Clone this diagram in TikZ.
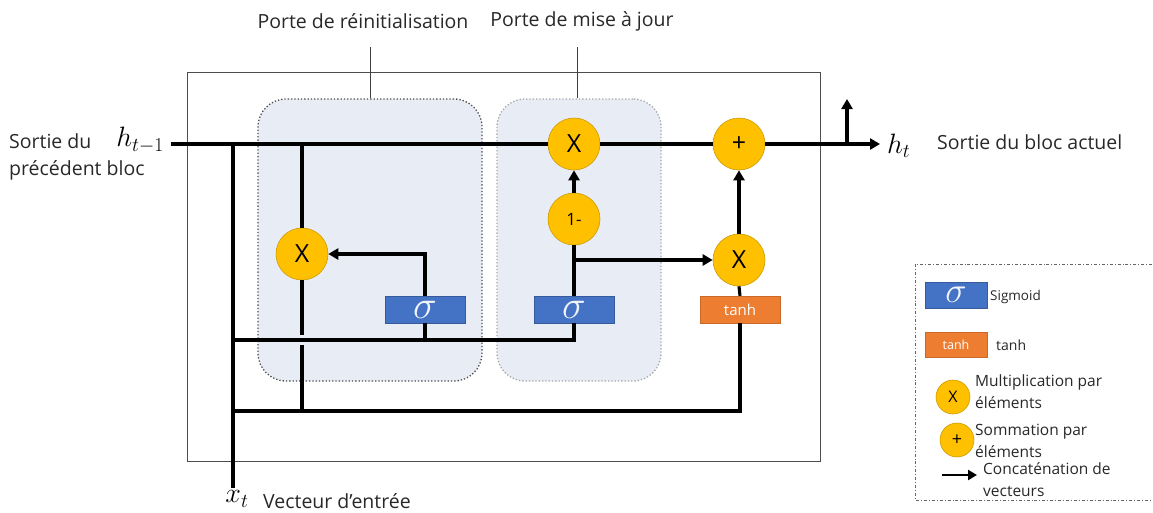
\RequirePackage{fix-cm}
\documentclass[tikz,border=0pt]{standalone}
\usepackage{fontspec}
\setmainfont{Open Sans}
\usetikzlibrary{arrows.meta,backgrounds}

\definecolor{gatefill}{RGB}{232,237,245}
\definecolor{sigblue}{RGB}{68,114,196}
\definecolor{tanhorange}{RGB}{237,125,49}
\definecolor{opyellow}{RGB}{255,192,0}
\definecolor{opedge}{RGB}{205,155,0}
\definecolor{textgray}{RGB}{40,40,40}

\tikzset{
  op/.style={circle, fill=opyellow, draw=opedge, line width=0.6pt,
    minimum size=52pt, inner sep=0pt, font=\fontsize{25}{25}\selectfont},
  smallop/.style={op, minimum size=34pt, font=\fontsize{16}{16}\selectfont},
  sigbox/.style={rectangle, fill=sigblue, draw=sigblue!80!black, line width=0.4pt,
    minimum width=80pt, minimum height=27pt, inner sep=0pt,
    text=white!92!sigblue},
  sigma/.style={font=\fontsize{#1}{#1}\selectfont},
  tanhbox/.style={rectangle, fill=tanhorange, draw=tanhorange!85!black, line width=0.4pt,
    minimum width=80pt, minimum height=27pt, inner sep=0pt,
    text=white, font=\fontsize{15}{15}\selectfont},
  gatebox/.style={rectangle, rounded corners=28pt, fill=gatefill,
    line width=1.3pt, dotted, minimum height=282pt},
  wire/.style={line width=3.1pt, line join=miter},
  flow/.style={wire, -{Triangle[length=10pt,width=11pt]}},
  thinline/.style={line width=1pt, draw=black!75},
  lbl/.style={inner sep=0pt, text=textgray, font=\fontsize{19.5}{27}\selectfont, align=left},
  leg/.style={inner sep=0pt, text=textgray, font=\fontsize{15.5}{22}\selectfont, align=left},
  mathlbl/.style={inner sep=0pt, font=\fontsize{28}{28}\selectfont},
}

\begin{document}
\begin{tikzpicture}[x=1pt, y=-1pt]
\useasboundingbox (0,0) rectangle (1153,512);

% cell frame
\node[draw=black!70, line width=1pt, minimum width=633pt, minimum height=389pt,
  inner sep=0pt] (cell) at (503.5,266.5) {};

% gate regions
\node[gatebox, draw=black!70, minimum width=224pt] (gr) at (370,240) {};
\node[gatebox, draw=black!35, minimum width=164pt] (gu) at (579,240) {};

% gate titles
\node[lbl] (tr) at (363,21) {Porte de réinitialisation};
\node[lbl] (tu) at (582,21) {Porte de mise à jour};
\coordinate (trl) at (370,47);
\coordinate (tul) at (577,47);
\draw[thinline] (trl) -- (gr.north);
\draw[thinline] (tul) -- (tul |- gu.north);

% operators
\node[op] (r) at (302,254) {X};
\node[op] (u) at (574,144) {X};
\node[op, font=\fontsize{17}{17}\selectfont] (om) at (574,219) {1-};
\node[op] (m) at (739,260) {X};
\node[op] (p) at (739,144) {+};

% activations
\node[sigbox, sigma=40] (s1) at (425,309.5) {$\sigma$};
\node[sigbox, sigma=40] (s2) at (574,309.5) {$\sigma$};
\node[tanhbox] (th) at (740,309.5) {tanh};

% terminals
\coordinate (hin) at (171,144);
\coordinate (hout) at (880,144);
\coordinate (xin) at (233,488);
\coordinate (j0) at (233,144);
\coordinate (jr) at (302,144);
\coordinate (tap) at (847,144);
\coordinate (tapup) at (847,99);
\coordinate (c1) at (233,340);
\coordinate (c2) at (233,411);
\coordinate (g1) at (302,335);
\coordinate (g2) at (302,345);

% hidden state line
\draw[wire] (hin) -- (u.west);
\draw[wire] (u.east) -- (p.west);
\draw[flow] (p.east) -- (hout);
\draw[flow] (tap) -- (tapup);

% input line
\draw[wire] (xin) -- (j0);

% reset branch
\draw[wire] (jr) -- (r.north);
\draw[wire] (r.south) -- (g1);
\draw[wire] (g2) -- (g2 |- c2);
\draw[wire] (c1) -| (s2.south);
\draw[wire] (s1.south |- c1) -- (s1.south);
\draw[flow] (s1.north) |- (r.east);

% update branch
\draw[wire] (s2.north) -- (om.south);
\draw[flow] (om.north) -- (u.south);
\draw[flow] (s2.north |- m.west) -- (m.west);

% candidate branch
\draw[wire] (c2) -| (th.south);
\draw[wire] (m.south) -- (th.north);
\draw[flow] (m.north) -- (p.south);

% outer labels
\node[lbl, anchor=west] (lin) at (9,157) {Sortie du\\précédent bloc};
\node[mathlbl, anchor=east] (hprev) at (164,140) {$h_{t-1}$};
\node[mathlbl, anchor=west] (hnext) at (887,146) {$h_t$};
\node[lbl, anchor=west] (lout) at (937,142) {Sortie du bloc actuel};
\node[mathlbl] (xt) at (237,499) {$x_t$};
\node[lbl, anchor=west] (lx) at (263,501) {Vecteur d'entrée};

% legend
\draw[line width=0.9pt, draw=black!60, dash dot] (1160,264) -- (915,264) -- (915,500) -- (1160,500);
\node[sigbox, sigma=36, minimum width=62pt, minimum height=26pt] (ls) at (956,295) {$\sigma$};
\node[inner sep=0pt, anchor=west, text=textgray, font=\fontsize{13.5}{13.5}\selectfont] (lst) at (990,297) {Sigmoid};
\node[tanhbox, minimum width=62pt, minimum height=25pt, font=\fontsize{12.5}{12.5}\selectfont] (lt) at (956,345) {tanh};
\node[inner sep=0pt, anchor=west, text=textgray, font=\fontsize{14}{14}\selectfont] (ltt) at (996,345) {tanh};
\node[smallop] (lm) at (953,397) {X};
\node[leg, anchor=west] (lmt) at (975,392) {Multiplication par\\éléments};
\node[smallop, font=\fontsize{18}{18}\selectfont] (lp) at (957,440) {+};
\node[leg, anchor=west] (lpt) at (975,441) {Sommation par\\éléments};
\coordinate (la1) at (942,475);
\coordinate (la2) at (977,475);
\draw[line width=2.6pt, -{Triangle[length=9pt,width=10pt]}] (la1) -- (la2);
\node[leg, anchor=west] (lat) at (983,480) {Concaténation de\\vecteurs};
\end{tikzpicture}
\end{document}
